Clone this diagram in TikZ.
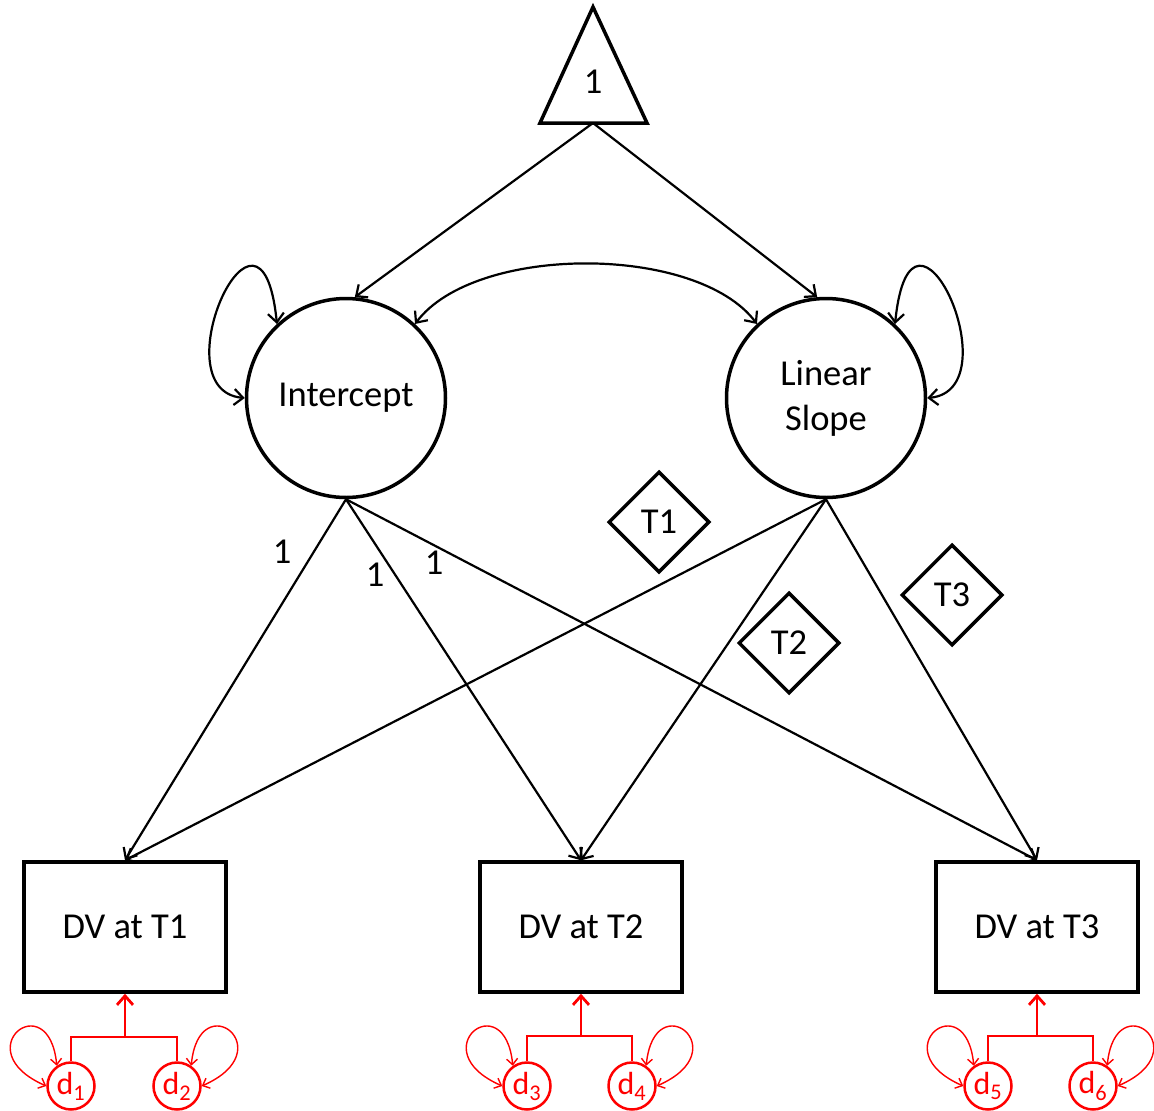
\documentclass[tikz,border=0pt]{standalone}
\usepackage{fontspec}
\setmainfont{Carlito}
\usetikzlibrary{arrows.meta,shapes.geometric}

\begin{document}
\begin{tikzpicture}
[x=1pt,y=-1pt,
 >={Straight Barb[length=9pt,width=16pt]},
 every node/.style={font=\fontsize{36.5}{45}\selectfont},
 latent/.style={draw,circle,line width=3.5pt,minimum size=199pt,inner sep=0pt,align=center},
 obs/.style={draw,line width=3.5pt,minimum width=202pt,minimum height=130pt,inner sep=0pt},
 tbox/.style={draw,diamond,line width=3.5pt,minimum width=101pt,minimum height=101pt,inner sep=0pt},
 dist/.style={draw=red,text=red,circle,line width=2.5pt,minimum size=47pt,inner sep=0pt,font=\fontsize{32}{32}\selectfont},
 link/.style={line width=2.2pt,->},
 twoway/.style={line width=2.2pt,<->},
 redline/.style={red,line width=2.8pt},
 redloop/.style={red,line width=1.4pt,{Straight Barb[length=6pt,width=11pt]}-{Straight Barb[length=6pt,width=11pt]}}]
\useasboundingbox (0,0) rectangle (1154,1111);

\draw[line width=3.5pt] (593,7) -- (647,123) -- (540,123) -- cycle;
\node (one) at (593,82) {1};
\coordinate (base) at (593,123);

\node[latent] (int) at (346,398) {Intercept};
\node[latent] (slope) at (826,398) {Linear\\Slope};

\node[obs] (dv1) at (125,927) {DV at T1};
\node[obs] (dv2) at (581,927) {DV at T2};
\node[obs] (dv3) at (1037,927) {DV at T3};

\node[tbox] (t1) at (659,522) {T1};
\node[tbox] (t2) at (789,643) {T2};
\node[tbox] (t3) at (952,595) {T3};

\node (l1) at (282,552) {1};
\node (l2) at (375,575) {1};
\node (l3) at (434,563) {1};

\node[dist] (d1) at (71,1086) {d\textsubscript{1}};
\node[dist] (d2) at (177,1086) {d\textsubscript{2}};
\node[dist] (d3) at (527,1086) {d\textsubscript{3}};
\node[dist] (d4) at (632,1086) {d\textsubscript{4}};
\node[dist] (d5) at (988,1086) {d\textsubscript{5}};
\node[dist] (d6) at (1093,1086) {d\textsubscript{6}};
\coordinate (j1) at (125,1037);
\coordinate (j2) at (581,1036);
\coordinate (j3) at (1037,1036);

\draw[link] (base) -- (int.85);
\draw[link] (base) -- (slope.95);
\foreach \from/\to in {int/dv1,int/dv2,int/dv3,slope/dv1,slope/dv2,slope/dv3}
\draw[link] (\from.south) -- (\to.north);

\draw[twoway] (int.133) .. controls +(-16,-160) and +(-87,-8) .. (int.180);
\draw[twoway] (slope.47) .. controls +(16,-160) and +(87,-8) .. (slope.0);
\draw[twoway] (int.47) .. controls +(60,-80) and +(-60,-80) .. (slope.133);

\foreach \a/\b/\j/\v in {d1/d2/j1/dv1,d3/d4/j2/dv2,d5/d6/j3/dv3}{
\draw[redline] (\a.north) |- (\j) -| (\b.north);
\draw[redline,->] (\j) -- (\v.south);
\draw[redloop] (\a.125) .. controls +(-8,-82) and +(-82,-36) .. (\a.180);
\draw[redloop] (\b.55) .. controls +(8,-82) and +(82,-36) .. (\b.0);
}
\end{tikzpicture}
\end{document}
